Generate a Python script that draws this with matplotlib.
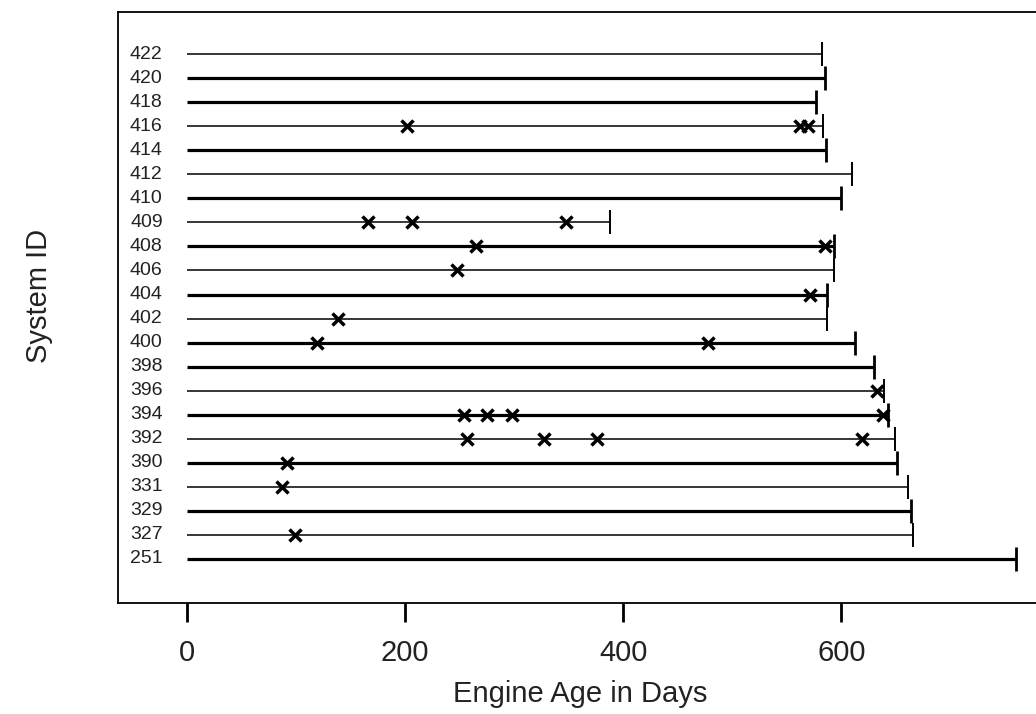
import matplotlib
matplotlib.use("Agg")
import matplotlib.pyplot as plt

plt.rcParams['font.family'] = ['Liberation Sans', 'DejaVu Sans']

# system ids, top to bottom as drawn
system_ids = ['422', '420', '418', '416', '414', '412', '410', '409', '408', '406', '404',
              '402', '400', '398', '396', '394', '392', '390', '331', '329', '327', '251']

# engine age (days) at end of observation
end_days = [582, 585, 577, 583, 586, 610, 600, 388, 593, 593, 587,
            587, 612, 630, 639, 643, 649, 651, 661, 664, 666, 760]

# ages at which a repair/failure was recorded
event_days = [[], [], [], [202, 562, 569], [], [], [], [166, 206, 348], [265, 585], [248], [571],
              [139], [119, 478], [], [633], [254, 275, 298, 638], [257, 327, 376, 619], [92], [87], [], [99], []]

# heavy (thick) line rows
heavy = [0, 1, 1, 0, 1, 0, 1, 0, 1, 0, 1, 0, 1, 1, 0, 1, 0, 1, 0, 1, 0, 1]

fig = plt.figure(figsize=(10.36, 7.14), dpi=100)
ax = fig.add_axes([118 / 1036, 111 / 714, 922 / 1036, 591 / 714])

n = len(system_ids)
for i, sid in enumerate(system_ids):
    y = n - i
    lw = 2.3 if heavy[i] else 1.1
    ax.plot([0, end_days[i]], [y, y], color='black', lw=lw, solid_capstyle='butt')
    ax.plot([end_days[i]], [y], marker='|', ms=17, mew=2.0 if heavy[i] else 1.4, color='black')
    if event_days[i]:
        ax.plot(event_days[i], [y] * len(event_days[i]), linestyle='none', marker='x',
                ms=8, mew=2.5, color='black')
    ax.text(-22, y, sid, ha='right', va='center', fontsize=14, color='#222222')

ax.set_xlim(-63, 782)
ax.set_ylim(-0.83, n + 1.75)
ax.set_yticks([])
ax.set_xticks([0, 200, 400, 600])
ax.tick_params(axis='x', length=14, width=2, labelsize=21, pad=12, colors='black',
               labelcolor='#222222')
for s in ax.spines.values():
    s.set_linewidth(1.3)

fig.text(580 / 1036, 1 - 694 / 714, 'Engine Age in Days', ha='center', va='center',
         fontsize=21, color='#222222')
fig.text(39 / 1036, 1 - 296 / 714, 'System ID', ha='center', va='center', rotation=90,
         fontsize=21, color='#222222')

fig.savefig('out.png', dpi=100)
